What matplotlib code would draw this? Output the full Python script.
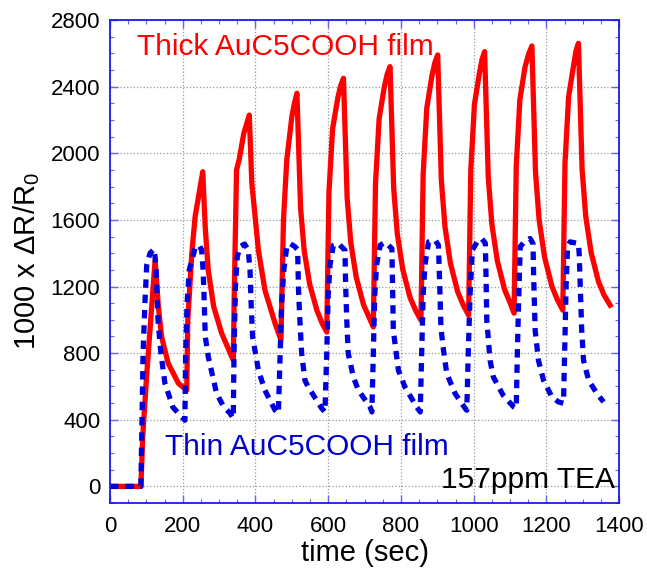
import matplotlib
matplotlib.use("Agg")
import matplotlib.pyplot as plt
from matplotlib.ticker import MultipleLocator

plt.rcParams['font.family'] = ['Liberation Sans', 'DejaVu Sans']
plt.rcParams['mathtext.fontset'] = 'custom'
plt.rcParams['mathtext.rm'] = 'Liberation Sans'
plt.rcParams['mathtext.it'] = 'Liberation Sans'

# Thick AuC5COOH film (red, solid)
thick_t = [0, 85, 90, 100, 112, 124,
           133, 142, 160, 188, 211,
           214, 225, 234, 255,
           262, 270, 285, 307, 339,
           342, 348, 355, 368, 383,
           390, 408, 426, 454, 470,
           477, 486, 500, 507, 514,
           524, 534, 549, 569, 584, 596,
           602, 612, 626, 634, 642,
           652, 662, 677, 697, 712, 724,
           730, 740, 754, 762, 770,
           780, 790, 805, 825, 840, 855,
           861, 871, 885, 893, 901,
           911, 921, 936, 956, 971, 986,
           992, 1002, 1016, 1023, 1030,
           1040, 1050, 1065, 1085, 1100, 1111,
           1117, 1127, 1141, 1151, 1160,
           1170, 1180, 1195, 1215, 1230, 1245,
           1251, 1261, 1275, 1281, 1288,
           1298, 1308, 1323, 1343, 1358, 1375]
thick_y = [0, 0, 300, 640, 1000, 1358,
           1078, 897, 739, 619, 577,
           1000, 1400, 1618, 1889,
           1550, 1300, 1080, 919, 757,
           1200, 1900, 1960, 2120, 2229,
           1819, 1418, 1178, 978, 880,
           1598, 1959, 2219, 2300, 2360,
           1672, 1414, 1214, 1056, 975, 927,
           1765, 2145, 2328, 2404, 2450,
           1733, 1465, 1256, 1091, 1017, 957,
           1817, 2207, 2395, 2473, 2520,
           1789, 1515, 1302, 1134, 1058, 997,
           1873, 2271, 2462, 2542, 2590,
           1840, 1559, 1340, 1168, 1090, 1028,
           1898, 2294, 2484, 2563, 2610,
           1856, 1574, 1354, 1181, 1103, 1040,
           1922, 2323, 2516, 2596, 2644,
           1883, 1597, 1375, 1201, 1121, 1058,
           1939, 2340, 2532, 2612, 2660,
           1905, 1622, 1402, 1230, 1150, 1088]

# Thin AuC5COOH film (blue, dashed)
thin_t = [0, 85, 88, 91, 96, 101, 110, 122, 127, 132, 140, 151, 173, 206,
          208, 212, 218, 234, 245, 252, 256, 259, 262, 270, 293, 312, 330, 339,
          341, 345, 350, 358, 370, 380, 385, 388, 392, 408, 426, 454, 463,
          468, 472, 478, 486, 495, 508, 516, 518, 522, 527, 536, 545, 582, 591,
          596, 600, 605, 614, 628, 646, 648, 651, 655, 669, 683, 715, 720,
          724, 728, 733, 743, 757, 775, 777, 779, 793, 811, 843, 853,
          857, 861, 866, 876, 894, 903, 906, 910, 917, 926, 949, 977, 981,
          985, 990, 996, 1010, 1022, 1032, 1034, 1036, 1045, 1054, 1081, 1110, 1117,
          1120, 1124, 1128, 1140, 1155, 1163, 1165, 1169, 1178, 1192, 1215, 1233, 1247,
          1250, 1254, 1258, 1265, 1288, 1290, 1293, 1297, 1302, 1316, 1339, 1357]
thin_y = [0, 0, 400, 799, 1100, 1328, 1400, 1424, 1300, 998, 800, 619, 475, 397,
          800, 1100, 1300, 1430, 1448, 1420, 1300, 1118, 900, 780, 559, 480, 439, 409,
          800, 1200, 1380, 1440, 1455, 1420, 1300, 1100, 900, 697, 577, 457, 439,
          800, 1100, 1300, 1438, 1458, 1440, 1420, 1200, 1000, 799, 637, 597, 469, 447,
          800, 1150, 1330, 1448, 1458, 1418, 1200, 998, 799, 657, 577, 477, 447,
          800, 1150, 1330, 1448, 1465, 1428, 1200, 937, 697, 597, 477, 447,
          800, 1150, 1330, 1468, 1478, 1448, 1250, 950, 817, 677, 557, 467, 457,
          800, 1150, 1418, 1470, 1488, 1460, 1250, 998, 757, 657, 547, 477, 469,
          800, 1150, 1440, 1470, 1488, 1458, 1250, 937, 757, 637, 537, 507, 499,
          800, 1200, 1440, 1468, 1458, 1398, 1198, 937, 757, 637, 557, 507]

fig = plt.figure(figsize=(6.47, 5.71), dpi=100)
ax = fig.add_axes([0.170, 0.119, 0.787, 0.846])

ax.plot(thick_t, thick_y, color='#ff0000', lw=3.8)
ax.plot(thin_t, thin_y, color='#0000dd', lw=3.8, linestyle=(0, (1.6, 1.3)))

ax.set_xlim(0, 1400)
ax.set_ylim(-100, 2800)
ax.xaxis.set_major_locator(MultipleLocator(200))
ax.xaxis.set_minor_locator(MultipleLocator(50))
ax.yaxis.set_major_locator(MultipleLocator(400))
ax.yaxis.set_minor_locator(MultipleLocator(100))
ax.grid(True, which='major', color='#999999', linestyle=':', linewidth=0.9)

for s in ax.spines.values():
    s.set_color('#1a1aee')
    s.set_linewidth(1.3)
ax.tick_params(which='both', direction='in', top=True, right=True,
               color='#6666ee', labelsize=16, labelcolor='black')
ax.tick_params(which='major', length=6, width=1)
ax.tick_params(which='minor', length=3, width=0.8)
ax.tick_params(axis='x', pad=9)
ax.tick_params(axis='y', pad=7)

ax.set_xlabel("time (sec)", fontsize=21, labelpad=2)
ax.set_ylabel(r"1000 x $\Delta$R/R$_0$", fontsize=21, labelpad=6)

ax.text(74, 2590, "Thick AuC5COOH film", color='#ff0000', fontsize=21.5,
        ha='left', va='baseline')
ax.text(151, 190, "Thin AuC5COOH film", color='#0000cc', fontsize=21.5,
        ha='left', va='baseline')
ax.text(1387, -10, "157ppm TEA", color='black', fontsize=21.5,
        ha='right', va='baseline')

fig.savefig("out.png", dpi=100)
